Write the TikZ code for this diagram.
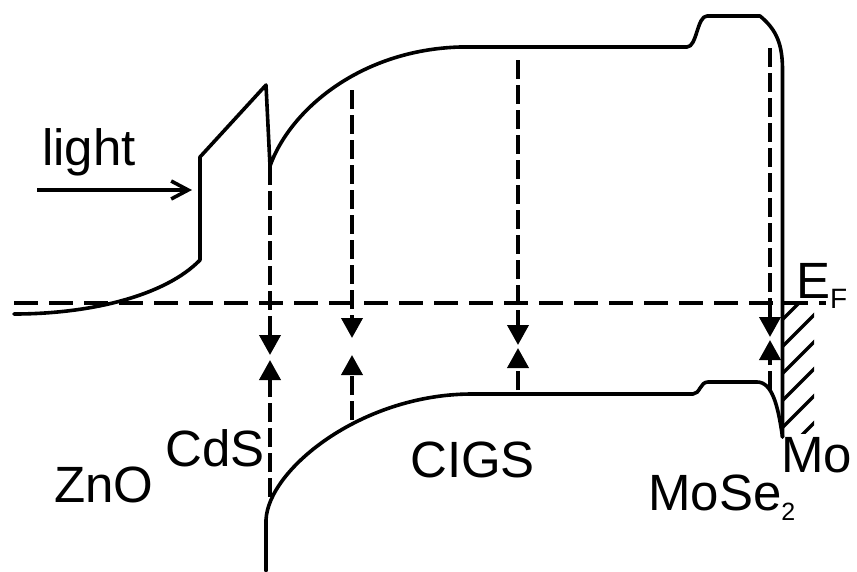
\documentclass[tikz,border=0pt]{standalone}
\usepackage{fontspec}
\setmainfont{Liberation Sans}
\usetikzlibrary{arrows.meta}
\begin{document}
\begin{tikzpicture}[x=1pt,y=-1pt,
  band/.style={line width=3.6pt, line join=round, line cap=round},
  fermi/.style={line width=4pt, dash pattern=on 24pt off 11pt},
  vdash/.style={line width=3.8pt, dash pattern=on 19pt off 6pt},
  tipd/.style={-{Triangle[width=21pt,length=20pt]}},
  lbl/.style={font=\fontsize{51}{60}\selectfont, inner sep=0pt, anchor=base west},
  hatchln/.style={line width=3.4pt},
]
\useasboundingbox (0,0) rectangle (857,571);

% ---- key coordinates ----
\coordinate (fL) at (14,303);
\coordinate (fR) at (826,303);

% vertical transition lines: top, down tip, up tip, bottom
\coordinate (aT) at (270,166);  \coordinate (aD) at (270,355);
\coordinate (aU) at (270,360);  \coordinate (aB) at (270,497);
\coordinate (bT) at (352,90);   \coordinate (bD) at (352,338);
\coordinate (bU) at (352,355);  \coordinate (bB) at (352,420);
\coordinate (cT) at (518,60);   \coordinate (cD) at (518,345);
\coordinate (cU) at (518,348);  \coordinate (cB) at (518,390);
\coordinate (dT) at (770,48);   \coordinate (dD) at (770,337);
\coordinate (dU) at (770,340);  \coordinate (dB) at (770,390);

\coordinate (lightS) at (37,190);
\coordinate (lightE) at (192,190);

% ---- Fermi level ----
\draw[fermi] (fL) -- (fR);

% ---- hatched Mo region ----
\begin{scope}
  \clip (782,303) rectangle (814,433);
  \foreach \yy in {320,347,374,401,428,455}
    \draw[hatchln] (782,\yy) -- ++(45,-45);
\end{scope}

% ---- conduction band ----
\draw[band] (14,314) .. controls (90,314) and (165,296) .. (200,260)
  -- (200,157) -- (266,85) -- (aT)
  .. controls (290,110) and (360,50) .. (460,47)
  -- (687,47) .. controls (697,47) and (697,16) .. (707,16)
  -- (760,16) .. controls (777,30) and (782.5,45) .. (782.5,70)
  -- (782.5,437);

% ---- valence band ----
\draw[band] (266,571) -- (266,520)
  .. controls (268,470) and (360,395) .. (470,394)
  -- (693,394) .. controls (700,394) and (700,382) .. (708,382)
  -- (757,382) .. controls (772,382) and (778,405) .. (782.5,437);

% ---- transitions ----
\draw[vdash,tipd] (aT) -- (aD);
\draw[vdash,tipd] (aB) -- (aU);
\draw[vdash,tipd] (bT) -- (bD);
\draw[vdash,tipd] (bB) -- (bU);
\draw[vdash,tipd] (cT) -- (cD);
\draw[vdash,tipd] (cB) -- (cU);
\draw[vdash,tipd] (dT) -- (dD);
\draw[vdash,tipd] (dB) -- (dU);

% ---- light ----
\draw[line width=3.6pt, -{Straight Barb[length=17pt,width=18pt]}] (lightS) -- (lightE);

% ---- labels ----
\node[lbl] (light) at (42,165) {light};
\node[lbl] (zno) at (54,502) {ZnO};
\node[lbl] (cds) at (165.5,466) {CdS};
\node[lbl] (cigs) at (410,477) {CIGS};
\node[lbl] (mose) at (648,510) {MoSe\raisebox{-10pt}{\fontsize{25}{25}\selectfont 2}};
\node[lbl] (mo) at (781,472) {Mo};
\node[lbl] (ef) at (796,298) {E\raisebox{-10pt}{\fontsize{28}{28}\selectfont F}};
\end{tikzpicture}
\end{document}
